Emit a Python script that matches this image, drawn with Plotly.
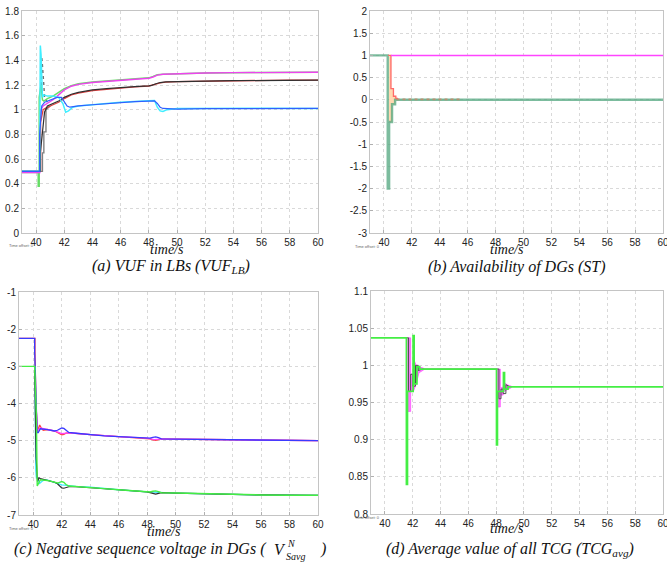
import plotly.graph_objects as go

W, H = 667, 564

# ---------------- (a) VUF in LBs ----------------
a_mag_t = [39, 40.27, 40.27, 40.33, 40.5, 40.8, 41.2, 41.6, 42.0, 42.5, 43, 44, 45, 46, 47, 48, 48.3, 48.6, 49, 50, 52, 54, 56, 58, 60]
a_mag_v = [0.49, 0.49, 0.8, 1.0, 1.03, 1.05, 1.08, 1.12, 1.16, 1.19, 1.205, 1.22, 1.23, 1.24, 1.248, 1.255, 1.265, 1.28, 1.287, 1.292, 1.297, 1.3, 1.302, 1.303, 1.303]
a_grn_t = [39, 40.15, 40.15, 40.22, 40.22, 40.35, 40.45, 40.55, 40.8, 41.2, 41.6, 42, 42.5, 43, 44, 46, 48, 48.3, 48.6, 49, 50, 52, 56, 60]
a_grn_v = [0.49, 0.49, 0.38, 0.38, 1.1, 1.2, 1.08, 1.07, 1.09, 1.11, 1.14, 1.17, 1.195, 1.21, 1.225, 1.243, 1.258, 1.27, 1.283, 1.288, 1.292, 1.297, 1.302, 1.303]
a_blk_t = [39, 40.3, 40.3, 40.45, 40.6, 40.8, 41.2, 41.6, 42, 42.5, 43, 44, 45, 46, 47, 48, 48.2, 48.5, 48.8, 49.2, 50, 52, 54, 56, 58, 60]
a_blk_v = [0.5, 0.5, 0.65, 0.8, 0.98, 1.03, 1.05, 1.07, 1.1, 1.125, 1.14, 1.16, 1.17, 1.18, 1.187, 1.193, 1.197, 1.21, 1.22, 1.225, 1.228, 1.232, 1.235, 1.238, 1.24, 1.24]
a_red_t = [39, 40.32, 40.32, 40.5, 40.65, 40.8, 41.2, 41.6, 42, 42.5, 43, 44, 45, 46, 47, 48, 48.2, 48.5, 48.8, 49.2, 50, 52, 54, 56, 58, 60]
a_red_v = [0.5, 0.5, 0.9, 1.0, 1.01, 1.02, 1.04, 1.06, 1.09, 1.12, 1.135, 1.155, 1.167, 1.177, 1.185, 1.192, 1.196, 1.208, 1.218, 1.224, 1.228, 1.232, 1.235, 1.238, 1.24, 1.24]
a_gry_t = [39, 40.45, 40.45, 40.55, 40.55, 40.7, 40.7, 41.0]
a_gry_v = [0.5, 0.5, 0.65, 0.65, 0.82, 0.82, 1.0, 1.03]
a_gdash_t = [40.36, 40.4, 40.45, 40.5, 40.55, 40.6, 40.8]
a_gdash_v = [1.15, 1.43, 1.36, 1.3, 1.2, 1.1, 1.06]
a_blu_t = [39, 40.25, 40.25, 40.35, 40.4, 40.6, 41.0, 41.5, 41.8, 42.0, 42.2, 42.4, 43, 44, 45, 46, 47, 48, 48.4, 48.6, 48.8, 49.0, 49.5, 50, 52, 56, 60]
a_blu_v = [0.5, 0.5, 0.8, 1.0, 1.03, 1.06, 1.08, 1.1, 1.1, 1.06, 1.03, 1.02, 1.03, 1.04, 1.05, 1.06, 1.065, 1.07, 1.072, 1.05, 1.02, 1.01, 1.005, 1.005, 1.008, 1.01, 1.01]
a_cyn_t = [39, 40.25, 40.3, 40.35, 40.45, 40.55, 40.8, 41.2, 41.6, 41.9, 42.1, 42.3, 42.6, 43, 44, 46, 48, 48.4, 48.6, 48.8, 49.0, 49.3, 50, 52, 56, 60]
a_cyn_v = [0.5, 0.5, 1.52, 1.45, 1.1, 1.12, 1.11, 1.11, 1.1, 1.05, 0.98, 0.99, 1.02, 1.03, 1.04, 1.06, 1.072, 1.075, 1.02, 0.99, 0.985, 1.0, 1.01, 1.012, 1.012, 1.01]

# ---------------- (b) Availability of DGs ----------------
b_grn_t = [39, 40.27, 40.27, 40.37, 40.37, 40.58, 40.58, 40.8, 40.8, 60]
b_grn_v = [1, 1, -2, -2, -0.5, -0.5, -0.1, -0.1, 0, 0]
b_pch_t = [40.3, 40.5, 40.5, 40.68, 40.68, 40.85, 40.85, 41.0, 41.0, 40.8, 40.8, 40.58, 40.58, 40.37, 40.37, 40.3]
b_pch_v = [1, 1, 0.25, 0.25, 0.08, 0.08, 0.03, 0.03, 0, 0, -0.1, -0.1, -0.5, -0.5, 1, 1]
b_red_t = [40.3, 40.5, 40.5, 40.68, 40.68, 40.85, 40.85, 41.0]
b_red_v = [1, 1, 0.25, 0.25, 0.08, 0.08, 0.03, 0.03]
b_tan_t = [40.9, 45.6]
b_tan_v = [0.01, 0.01]
b_mag_t = [40.5, 60]
b_mag_v = [1, 1]

# ---------------- (c) Negative sequence voltage ----------------
c_blu_t = [39, 40.1, 40.1, 40.2, 40.27, 40.35, 40.5, 41.0, 41.5, 41.7, 41.85, 42.0, 42.15, 42.3, 42.5, 43.0, 44.0, 45.0, 46.0, 47.0, 48.0, 48.2, 48.4, 48.6, 48.8, 49.0, 50.0, 52.0, 54.0, 56.0, 58.0, 60.0]
c_blu_v = [-2.25, -2.25, -2.6, -4.0, -4.78, -4.78, -4.68, -4.70, -4.74, -4.72, -4.68, -4.66, -4.67, -4.72, -4.78, -4.80, -4.84, -4.87, -4.89, -4.91, -4.93, -4.93, -4.91, -4.90, -4.92, -4.95, -4.96, -4.97, -4.98, -4.99, -4.99, -5.0]
c_red_t = [39, 40.12, 40.12, 40.2, 40.3, 40.45, 40.55, 40.7, 41.0, 41.5, 41.7, 41.85, 42.0, 42.15, 42.3, 42.5, 43.0, 44.0, 46.0, 48.0, 48.2, 48.4, 48.6, 48.8, 49.0, 50.0, 52.0, 56.0, 60.0]
c_red_v = [-2.25, -2.25, -2.62, -4.1, -4.75, -4.58, -4.65, -4.72, -4.70, -4.74, -4.78, -4.82, -4.84, -4.83, -4.80, -4.79, -4.80, -4.84, -4.89, -4.93, -4.95, -4.98, -4.99, -4.97, -4.95, -4.96, -4.97, -4.99, -5.0]
c_mag_t = [40.2, 40.22, 40.22, 40.3, 40.5, 41.0, 41.5, 42.0, 42.5, 43.0, 44.0, 46.0, 48.0, 48.5, 49.0, 50.0, 52.0, 56.0, 60.0]
c_mag_v = [-3.9, -3.9, -4.2, -4.72, -4.66, -4.70, -4.74, -4.81, -4.79, -4.80, -4.84, -4.89, -4.93, -4.97, -4.95, -4.96, -4.97, -4.99, -5.0]
c_grn_t = [39, 40.1, 40.1, 40.22, 40.28, 40.35, 40.5, 41.0, 41.5, 41.7, 41.85, 42.0, 42.15, 42.3, 42.5, 43.0, 44.0, 45.0, 46.0, 47.0, 48.0, 48.2, 48.4, 48.6, 48.8, 49.0, 50.0, 52.0, 54.0, 56.0, 58.0, 60.0]
c_grn_v = [-3.0, -3.0, -3.05, -4.3, -6.22, -6.15, -6.05, -6.07, -6.12, -6.14, -6.12, -6.10, -6.12, -6.18, -6.22, -6.23, -6.25, -6.29, -6.32, -6.35, -6.38, -6.38, -6.36, -6.35, -6.37, -6.40, -6.41, -6.43, -6.45, -6.46, -6.47, -6.47]
c_blk_t = [40.1, 40.2, 40.2, 40.3, 40.4, 40.5, 41.0, 41.5, 41.7, 41.85, 42.0, 42.15, 42.3, 42.5, 43, 44, 46, 48, 48.2, 48.4, 48.6, 48.8, 49.0, 50, 52, 56, 60]
c_blk_v = [-3.1, -5.0, -5.45, -6.1, -6.0, -6.02, -6.06, -6.12, -6.16, -6.22, -6.27, -6.28, -6.26, -6.24, -6.24, -6.26, -6.32, -6.38, -6.40, -6.43, -6.44, -6.42, -6.40, -6.41, -6.43, -6.46, -6.47]
c_cyn_t = [40.1, 40.12, 40.12, 40.18, 40.22, 40.3, 40.45, 40.6, 40.8, 41.0, 41.5, 42, 43, 44, 46, 48, 50, 52, 56, 60]
c_cyn_v = [-3.0, -3.3, -3.6, -5.8, -6.0, -6.0, -6.15, -6.1, -6.05, -6.06, -6.12, -6.19, -6.23, -6.25, -6.32, -6.38, -6.41, -6.43, -6.46, -6.47]

# ---------------- (d) Average TCG ----------------
d_pnk1_t = [41.6, 41.85, 41.85, 42.05, 42.1, 42.25, 42.45, 42.8, 42.8, 42.45, 42.25, 42.15, 42.05, 41.85, 41.85, 41.6]
d_pnk1_v = [1.037, 1.037, 0.988, 0.988, 1.007, 1.0, 0.998, 0.996, 0.994, 0.99, 0.975, 0.97, 0.965, 0.965, 0.938, 0.938]
d_pnk2_t = [48.05, 48.3, 48.3, 48.5, 48.55, 48.7, 48.9, 49.1, 49.1, 48.9, 48.7, 48.55, 48.5, 48.3, 48.3, 48.05]
d_pnk2_v = [0.995, 0.995, 0.97, 0.97, 0.978, 0.975, 0.973, 0.972, 0.970, 0.968, 0.966, 0.965, 0.96, 0.96, 0.944, 0.944]
d_gry_t = [41.6, 41.7, 41.7, 41.85, 41.85, 42.0, 42.0, 42.2, 42.2, 42.4, 42.4, 42.7, 48.1, 48.2, 48.2, 48.35, 48.35, 48.5, 48.5, 48.7, 48.7, 49.0]
d_gry_v = [1.037, 1.037, 0.965, 0.965, 0.988, 0.988, 0.972, 0.972, 1.0, 1.0, 0.993, 0.995, 0.995, 0.995, 0.955, 0.955, 0.968, 0.968, 0.962, 0.962, 0.974, 0.971]
d_grn_t = [39, 41.55, 41.55, 41.62, 41.62, 42.03, 42.03, 42.1, 42.1, 42.3, 42.3, 42.5, 42.5, 48.03, 48.03, 48.09, 48.09, 48.53, 48.53, 48.6, 48.6, 48.85, 48.85, 60]
d_grn_v = [1.037, 1.037, 0.84, 0.84, 0.965, 0.965, 1.04, 1.04, 0.975, 0.975, 0.998, 0.998, 0.995, 0.995, 0.893, 0.893, 0.965, 0.965, 0.99, 0.99, 0.968, 0.968, 0.971, 0.971]

x_ticks = [40, 42, 44, 46, 48, 50, 52, 54, 56, 58, 60]
a_yticks = [0, 0.2, 0.4, 0.6, 0.8, 1, 1.2, 1.4, 1.6, 1.8]
a_ytext = ["0", "0.2", "0.4", "0.6", "0.8", "1", "1.2", "1.4", "1.6", "1.8"]
b_yticks = [-3, -2.5, -2, -1.5, -1, -0.5, 0, 0.5, 1, 1.5, 2]
b_ytext = ["-3", "-2.5", "-2", "-1.5", "-1", "-0.5", "0", "0.5", "1", "1.5", "2"]
c_yticks = [-7, -6, -5, -4, -3, -2, -1]
c_ytext = ["-7", "-6", "-5", "-4", "-3", "-2", "-1"]
d_yticks = [0.8, 0.85, 0.9, 0.95, 1, 1.05, 1.1]
d_ytext = ["0.8", "0.85", "0.9", "0.95", "1", "1.05", "1.1"]

fig = go.Figure()

def line(x, y, color, width=1.4, n="", dash=None, fill=None, fillcolor=None):
    fig.add_trace(go.Scatter(x=x, y=y, mode="lines", xaxis="x" + n, yaxis="y" + n,
                             line=dict(color=color, width=width, dash=dash),
                             fill=fill, fillcolor=fillcolor, showlegend=False,
                             hoverinfo="skip"))

# (a)
line(a_gry_t, a_gry_v, "#808080")
line(a_gdash_t, a_gdash_v, "#707070", 1.4, dash="dot")
line(a_grn_t, a_grn_v, "#66dd66", 1.5)
line(a_mag_t, a_mag_v, "#ee44ee", 1.4)
line(a_red_t, a_red_v, "#e04040", 1.3)
line(a_blk_t, a_blk_v, "#303030", 1.2)
line(a_cyn_t, a_cyn_v, "#40eeff", 1.5)
line(a_blu_t, a_blu_v, "#3060ff", 1.2)

# (b)
line(b_pch_t, b_pch_v, "#ffd0a0", 0.5, n="2", fill="toself", fillcolor="#ffd8b0")
line(b_grn_t, b_grn_v, "rgba(80,165,125,0.75)", 2.4, n="2")
line(b_red_t, b_red_v, "#ff6a6a", 1.3, n="2")
line(b_tan_t, b_tan_v, "#b89070", 1.6, n="2", dash="dot")
line(b_mag_t, b_mag_v, "#ff44ff", 1.5, n="2")

# (c)
line(c_red_t, c_red_v, "#ff4040", 1.3, n="3")
line(c_mag_t, c_mag_v, "#ff44ff", 1.3, n="3")
line(c_blu_t, c_blu_v, "#3a3aff", 1.3, n="3")
line(c_cyn_t, c_cyn_v, "#40e8ff", 1.3, n="3")
line(c_blk_t, c_blk_v, "#303030", 1.2, n="3")
line(c_grn_t, c_grn_v, "#44ee44", 1.4, n="3")

# (d)
line(d_pnk1_t, d_pnk1_v, "#ff55ff", 0.8, n="4", fill="toself", fillcolor="#ff77ff")
line(d_pnk2_t, d_pnk2_v, "#ff55ff", 0.8, n="4", fill="toself", fillcolor="#ff77ff")
line(d_gry_t, d_gry_v, "#505050", 1.0, n="4")
line(d_grn_t, d_grn_v, "#44ee44", 1.8, n="4")

def px_x(p):
    return p / W

def px_y(p):
    return 1 - p / H

def ax(domain, rng, tv, tt=None):
    d = dict(domain=domain, range=rng, tickmode="array", tickvals=tv,
             showline=True, linecolor="#c4c4c4", linewidth=1, mirror=True,
             showgrid=True, gridcolor="#d9d9d9", griddash="dot", gridwidth=1,
             ticks="inside", ticklen=3, tickcolor="#b0b0b0", zeroline=False,
             tickfont=dict(family="Liberation Sans, Arial, sans-serif", size=10, color="#222"),
             fixedrange=True, automargin=False, ticklabeloverflow="allow")
    if tt is not None:
        d["ticktext"] = tt
    return d

fig.update_layout(
    width=W, height=H, margin=dict(l=0, r=0, t=0, b=0, autoexpand=False),
    paper_bgcolor="white", plot_bgcolor="white",
    xaxis=ax([px_x(22), px_x(318)], [39, 60], x_ticks),
    yaxis=ax([px_y(233), px_y(11)], [0, 1.8], a_yticks, a_ytext),
    xaxis2=ax([px_x(370), px_x(663)], [39, 60], x_ticks),
    yaxis2=ax([px_y(233), px_y(11)], [-3, 2], b_yticks, b_ytext),
    xaxis3=ax([px_x(19), px_x(318)], [39, 60], x_ticks),
    yaxis3=ax([px_y(515), px_y(292)], [-7, -1], c_yticks, c_ytext),
    xaxis4=ax([px_x(371), px_x(663)], [39, 60], x_ticks),
    yaxis4=ax([px_y(514), px_y(291)], [0.8, 1.1], d_yticks, d_ytext),
)
fig.layout.xaxis2.anchor = "y2"
fig.layout.yaxis2.anchor = "x2"
fig.layout.xaxis3.anchor = "y3"
fig.layout.yaxis3.anchor = "x3"
fig.layout.xaxis4.anchor = "y4"
fig.layout.yaxis4.anchor = "x4"

serif = "Liberation Serif, Times New Roman, serif"

def txt(s, x, y, size, xanchor="center", italic=True, color="#111"):
    fig.add_annotation(text=s, x=px_x(x), y=px_y(y), xref="paper", yref="paper",
                       xanchor=xanchor, yanchor="middle", showarrow=False,
                       font=dict(family=serif, size=size, color=color,
                                 style="italic" if italic else "normal"))

# axis titles
txt("time/s", 167, 250, 14)
txt("time/s", 507, 250, 14)
txt("time/s", 164, 531, 14)
txt("time/s", 507, 528, 14)

# captions
txt("(a) VUF in LBs (VUF<sub>LB</sub>)", 171, 267, 16)
txt("(b) Availability of DGs (ST)", 516, 267, 16)
txt("(c) Negative sequence voltage in DGs (", 12, 549, 16, xanchor="left")
txt("V", 272, 549, 16, xanchor="left")
txt("N", 285, 543, 10, xanchor="left")
txt("Savg", 284, 556, 10, xanchor="left")
txt(")", 318, 549, 16, xanchor="left")
txt("(d) Average value of all TCG (TCG<sub>avg</sub>)", 510, 549, 16)

# tiny MATLAB time-offset labels
for (x, y) in [(7, 245), (353, 246), (7, 528), (353, 517)]:
    fig.add_annotation(text="Time offset: 0", x=px_x(x), y=px_y(y), xref="paper", yref="paper",
                       xanchor="left", yanchor="middle", showarrow=False,
                       font=dict(family="Liberation Sans", size=4, color="#666"))

fig.write_html("out.html", config={"displayModeBar": False},
               post_script="document.body.style.margin='0';document.body.style.overflow='hidden';")
